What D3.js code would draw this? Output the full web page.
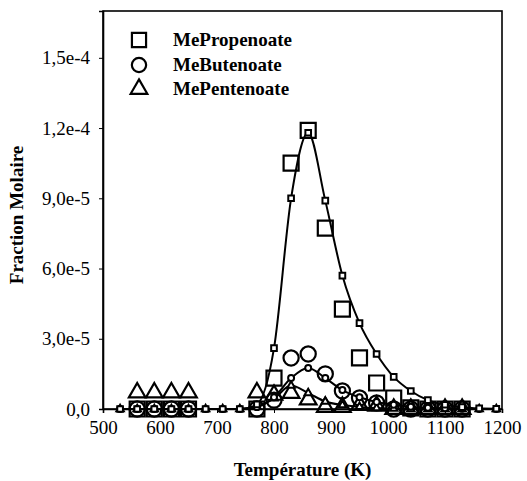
<!DOCTYPE html>
<html><head><meta charset="utf-8">
<script src="https://cdn.jsdelivr.net/npm/d3@7"></script>
<style>
html,body{margin:0;padding:0;background:#fff;}
svg{display:block;}
svg text{font-family:"Liberation Serif","Times New Roman",serif !important;}
</style></head>
<body>
<svg id="chart" width="527" height="481"></svg>
<script>
// ---- data ----
const modelT = [530,560,590,620,650,680,710,740,770,800,830,860,890,920,950,980,1010,1040,1070,1100,1130,1160,1190];
const propModel = [0,0,0,0,0,0,0,0,2e-6,2.6e-5,9.0e-5,1.18e-4,8.9e-5,5.7e-5,3.67e-5,2.35e-5,1.37e-5,7.7e-6,3.8e-6,1.8e-6,8e-7,3e-7,1e-7];
const butModel  = [0,0,0,0,0,0,0,0,8e-7,5e-6,1.32e-5,1.75e-5,1.32e-5,8.1e-6,5e-6,3e-6,1.8e-6,1e-6,5e-7,3e-7,1e-7,0,0];
const pentModel = [0,0,0,0,0,0,0,0,1e-6,4.5e-6,1.0e-5,6.8e-6,3.2e-6,1.7e-6,9e-7,4e-7,2e-7,0,0,0,0,0,0];

const expT    = [560,590,620,650,770,800,830,860,890,920,950,980,1010,1040,1070,1100,1130];
const propExp = [0,0,0,0,0,1.32e-5,1.05e-4,1.19e-4,7.73e-5,4.27e-5,2.18e-5,1.11e-5,4.7e-6,5e-7,0,0,0];
const butExp  = [0,0,0,0,0,3.8e-6,2.18e-5,2.35e-5,1.5e-5,7.7e-6,4.7e-6,2.6e-6,0,0,0,0,0];
const pentExp = [7e-6,7e-6,7e-6,7e-6,7e-6,6e-6,6.8e-6,4e-6,8e-7,8e-7,1.7e-6,1.3e-6,0,0,0,0,0];

const seriesNames = ["MePropenoate","MeButenoate","MePentenoate"];
const xTicks = [500,600,700,800,900,1000,1100,1200];
const yTicks = [0,3e-5,6e-5,9e-5,1.2e-4,1.5e-4];
const yTickLabels = ["0,0","3,0e-5","6,0e-5","9,0e-5","1,2e-4","1,5e-4"];
const xTitle = "Température (K)";
const yTitle = "Fraction Molaire";

// ---- layout ----
const L = 103, R = 502, T = 11, B = 409;
const FONT = "Liberation Serif, Times New Roman, serif";
const svg = d3.select("#chart");
const x = d3.scaleLinear().domain([500,1200]).range([L,R]);
const y = d3.scaleLinear().domain([0,1.7e-4]).range([B,T]);

// frame
svg.append("rect").attr("x",L).attr("y",T).attr("width",R-L).attr("height",B-T)
  .attr("fill","none").attr("stroke","#000").attr("stroke-width",1.6);

// axes
const xAxis = svg.append("g").attr("transform",`translate(0,${B})`)
  .call(d3.axisBottom(x).tickValues(xTicks).tickSize(4).tickPadding(8).tickFormat(d3.format("d")));
const yAxis = svg.append("g").attr("transform",`translate(${L},0)`)
  .call(d3.axisLeft(y).tickValues(yTicks).tickSize(4).tickPadding(9).tickFormat((d,i)=>yTickLabels[i]));
[xAxis,yAxis].forEach(g=>{
  g.attr("font-family",FONT).attr("font-size",19);
  g.select(".domain").attr("stroke","#000").attr("stroke-width",1.6);
  g.selectAll(".tick line").attr("stroke","#000").attr("stroke-width",1);
  g.selectAll("text").attr("fill","#000");
});

// titles
svg.append("text").attr("x",(L+R)/2).attr("y",476).attr("text-anchor","middle")
  .attr("font-family",FONT).attr("font-size",19).attr("font-weight","bold").text(xTitle);
svg.append("text").attr("transform",`translate(23,${(T+B)/2+5}) rotate(-90)`).attr("text-anchor","middle")
  .attr("font-family",FONT).attr("font-size",19).attr("font-weight","bold").text(yTitle);

// symbols
const sym = {
  square: d3.symbol().type(d3.symbolSquare),
  circle: d3.symbol().type(d3.symbolCircle),
  triangle: d3.symbol().type(d3.symbolTriangle)
};
function drawMarkers(xs, ys, type, area, sw, fill){
  svg.append("g").selectAll("path").data(xs).join("path")
    .attr("transform",(d,i)=>`translate(${x(d)},${y(ys[i])})`)
    .attr("d", sym[type].size(area)())
    .attr("fill",fill).attr("stroke","#000").attr("stroke-width",sw);
}

// experimental markers (big open)
drawMarkers(expT, pentExp, "triangle", 120, 2.2, "none");
drawMarkers(expT, butExp, "circle", 180, 2.2, "none");
drawMarkers(expT, propExp, "square", 225, 2.2, "none");

// model lines with small markers
const line = d3.line().x((d,i)=>x(modelT[i])).y(d=>y(d)).curve(d3.curveMonotoneX);
[pentModel,butModel,propModel].forEach(arr=>{
  svg.append("path").attr("d",line(arr)).attr("fill","none").attr("stroke","#000").attr("stroke-width",2);
});
drawMarkers(modelT, pentModel, "triangle", 24, 2, "#fff");
drawMarkers(modelT, butModel, "circle", 28, 2, "#fff");
drawMarkers(modelT, propModel, "square", 32, 2, "#fff");

// legend
const legTypes = ["square","circle","triangle"];
const legAreas = [200,160,120];
const legY = [40,65,89];
seriesNames.forEach((n,i)=>{
  svg.append("path").attr("transform",`translate(139,${legY[i]})`)
    .attr("d",sym[legTypes[i]].size(legAreas[i])()).attr("fill","none").attr("stroke","#000").attr("stroke-width",2.2);
  svg.append("text").attr("x",173).attr("y",legY[i]+6)
    .attr("font-family",FONT).attr("font-size",19).attr("font-weight","bold").text(n);
});
</script>
</body></html>
